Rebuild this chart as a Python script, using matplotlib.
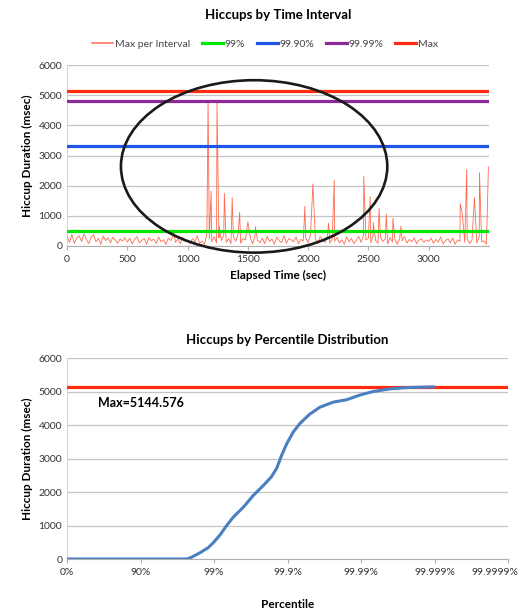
import matplotlib
matplotlib.use('Agg')
import matplotlib.pyplot as plt
import matplotlib.transforms as mtransforms
from matplotlib.patches import Ellipse

plt.rcParams['font.family'] = ['Lato', 'DejaVu Sans']

# --- top chart: max hiccup per 20 s interval (baseline) + the large spikes
base_step = 20
base_vals = [310, 120, 380, 90, 260, 340, 150, 400, 210, 80, 300, 370, 140, 250, 60, 330, 180, 270, 110, 290, 200, 90, 240, 160, 280,
             130, 260, 70, 220, 310, 100, 190, 250, 60, 280, 170, 230, 90, 300, 140, 210, 50, 260, 180, 330, 120, 240, 80, 290, 150,
             200, 70, 250, 130, 330, 90, 160, 60, 380, 220, 140, 310, 100, 270, 180, 350, 120, 240, 80, 300, 160, 410, 90, 250, 200,
             130, 280, 70, 350, 190, 110, 260, 80, 310, 150, 230, 60, 290, 170, 120, 340, 90, 250, 200, 140, 300, 80, 220, 160, 270,
             110, 380, 150, 260, 70, 310, 190, 120, 330, 90, 240, 160, 280, 100, 210, 60, 300, 140, 250, 80, 190, 320, 120, 350, 200,
             260, 110, 340, 180, 90, 300, 150, 230, 70, 280, 130, 210, 60, 250, 170, 310, 100, 220, 140, 270, 80, 190, 240, 120, 200,
             150, 260, 90, 220, 130, 300, 70, 180, 240, 110, 270, 60, 200, 160, 290, 120, 230, 80, 190, 250, 100, 310, 140, 170, 60]
spike_t = [883, 1170, 1195, 1244, 1263, 1305, 1370, 1432, 1500, 1563, 1973, 2040, 2170, 2217, 2462, 2515, 2541,
           2589, 2649, 2704, 2770, 3262, 3280, 3316, 3380, 3422, 3496]
spike_v = [480, 4820, 1820, 4790, 640, 1750, 1600, 1120, 800, 640, 1320, 2060, 760, 2180, 2320, 1630, 770,
           1250, 1060, 920, 660, 1410, 1030, 2540, 1610, 2430, 2630]

pct_names = ['99%', '99.90%', '99.99%', 'Max']
pct_levels = [507, 3330, 4820, 5144.576]
pct_colors = ['#00e600', '#2155e8', '#8b2a98', '#ff2a10']

# --- bottom chart: hiccup duration by percentile (x = number of nines)
dist_nines = [0, 1.63, 1.69, 1.81, 1.92, 1.99, 2.08, 2.17, 2.26, 2.40, 2.53, 2.67, 2.78, 2.85, 2.92, 2.99,
              3.08, 3.17, 3.30, 3.44, 3.62, 3.80, 3.98, 4.16, 4.39, 4.62, 4.98]
dist_vals = [0, 0, 50, 190, 340, 490, 720, 1000, 1250, 1555, 1895, 2200, 2460, 2710, 3110, 3460,
             3810, 4060, 4330, 4540, 4690, 4760, 4900, 5005, 5085, 5125, 5145]
pct_ticks = ['0%', '90%', '99%', '99.9%', '99.99%', '99.999%', '99.9999%']
max_val = 5144.576

grid_c = '#c4c4c4'
tick_c = '#333333'

fig = plt.figure(figsize=(5.24, 6.11), dpi=100)
ax1 = fig.add_axes([0.128, 0.5974, 0.805, 0.296])
ax2 = fig.add_axes([0.128, 0.0851, 0.842, 0.3285])

# merge baseline and spikes into one series
series = {i * base_step: v for i, v in enumerate(base_vals)}
for t, v in zip(spike_t, spike_v):
    series[t] = v
ts = sorted(series)
vs = [series[t] for t in ts]

ax1.plot(ts, vs, color='#ff6a50', lw=0.6, label='Max per Interval', zorder=3)
for name, lev, c in zip(pct_names, pct_levels, pct_colors):
    ax1.plot([0, 3500], [lev, lev], color=c, lw=2.3, label=name, zorder=4)

ax1.set_xlim(0, 3500)
ax1.set_ylim(0, 6000)
ax1.set_xticks(range(0, 3001, 500))
ax1.set_yticks(range(0, 6001, 1000))
ax1.grid(axis='y', color=grid_c, lw=0.9)
ax1.set_axisbelow(True)
ax1.set_title('Hiccups by Time Interval', fontsize=9.5, fontweight='bold', pad=33)
ax1.set_xlabel('Elapsed Time (sec)', fontsize=8.5, fontweight='bold', labelpad=4)
ax1.set_ylabel('Hiccup Duration (msec)', fontsize=8.5, fontweight='bold', labelpad=4)
leg = ax1.legend(loc='lower center', bbox_to_anchor=(0.47, 1.04), ncol=5, frameon=False,
                 fontsize=7.5, handlelength=2.0, handletextpad=0.2, columnspacing=1.1)
leg.legend_handles[0].set_linewidth(1.1)
for txt in leg.get_texts():
    txt.set_color('#444444')

# the hand-drawn ellipse
ax1.add_patch(Ellipse((1552, 2640), 2210, 5720, fill=False, ec='#1a1a1a', lw=1.9,
                      clip_on=False, zorder=6))

ax2.plot([0, 6], [max_val, max_val], color='#ff2a10', lw=2.3, zorder=3)
ax2.plot(dist_nines, dist_vals, color='#4a7fc0', lw=2.2, zorder=4)
ax2.text(0.42, 4650, 'Max=%.3f' % max_val, fontsize=9, fontweight='bold', ha='left', va='center')
ax2.set_xlim(0, 6)
ax2.set_ylim(0, 6000)
ax2.set_xticks(range(len(pct_ticks)))
ax2.set_xticklabels(pct_ticks)
ax2.set_yticks(range(0, 6001, 1000))
ax2.grid(axis='y', color=grid_c, lw=0.9)
ax2.set_axisbelow(True)
ax2.set_title('Hiccups by Percentile Distribution', fontsize=9.5, fontweight='bold', pad=10)
ax2.set_xlabel('Percentile', fontsize=8.5, fontweight='bold', labelpad=16)
ax2.set_ylabel('Hiccup Duration (msec)', fontsize=8.5, fontweight='bold', labelpad=4)

for ax in (ax1, ax2):
    for s in ('top', 'right'):
        ax.spines[s].set_visible(False)
    ax.spines['left'].set_color('#d8d8d8')
    ax.spines['bottom'].set_color('#b0b0b0')
    ax.tick_params(axis='both', labelsize=7.5, colors=tick_c, length=0)
    ax.tick_params(axis='x', length=3, color='#b0b0b0')

# keep the last percentile label inside the figure
last = ax2.get_xticklabels()[-1]
last.set_horizontalalignment('right')
last.set_transform(last.get_transform() + mtransforms.ScaledTranslation(7 / 72, 0, fig.dpi_scale_trans))

fig.savefig('out.png', dpi=100)
